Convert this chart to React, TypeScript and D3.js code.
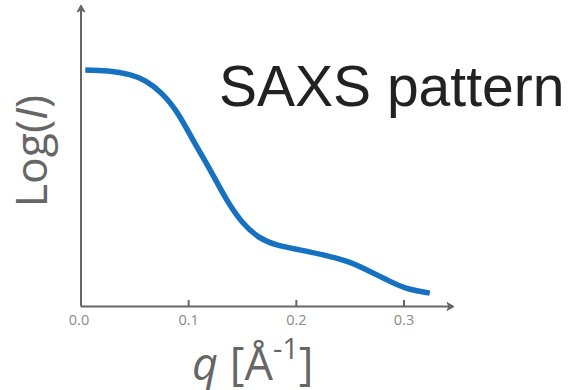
import React from "react";
import * as d3 from "d3";

// Scattering vector q [Å^-1] and log intensity (arbitrary units)
const qValues = [0.004, 0.025, 0.045, 0.06, 0.075, 0.09, 0.105, 0.12, 0.135, 0.15, 0.165, 0.182, 0.203, 0.225, 0.247, 0.265, 0.284, 0.302, 0.324];
const logI = [7.98, 7.94, 7.82, 7.6, 7.18, 6.5, 5.55, 4.6, 3.62, 2.84, 2.35, 2.08, 1.91, 1.74, 1.52, 1.24, 0.9, 0.62, 0.45];
const xTicks = [0.0, 0.1, 0.2, 0.3];

const W = 568;
const H = 390;
const originX = 81;
const originY = 306.5;
const xEnd = 454;
const yEnd = 5;

export default function App() {
  const x = d3.scaleLinear().domain([0, 0.3]).range([originX, 404]);
  const y = d3.scaleLinear().domain([0, 10]).range([originY, 10]);

  const pts = qValues.map((q, i) => [q, logI[i]] as [number, number]);
  const line = d3
    .line<[number, number]>()
    .x((d) => x(d[0]))
    .y((d) => y(d[1]))
    .curve(d3.curveNatural);

  const axisColor = "#666";
  const sans = "'Open Sans', 'DejaVu Sans', sans-serif";

  return (
    <svg
      width={W}
      height={H}
      style={{ position: "absolute", left: 0, top: 0, background: "#fff" }}
    >
      {/* axes with arrow heads */}
      <line x1={originX} y1={originY} x2={xEnd - 3} y2={originY} stroke={axisColor} strokeWidth={2} />
      <line x1={originX} y1={originY} x2={originX} y2={yEnd + 3} stroke={axisColor} strokeWidth={2} />
      <path
        d={`M${xEnd},${originY} L${xEnd - 7},${originY - 4} L${xEnd - 5},${originY} L${xEnd - 7},${originY + 4} Z`}
        fill={axisColor}
        stroke={axisColor}
        strokeWidth={1}
        strokeLinejoin="round"
      />
      <path
        d={`M${originX},${yEnd} L${originX - 4},${yEnd + 7} L${originX},${yEnd + 5} L${originX + 4},${yEnd + 7} Z`}
        fill={axisColor}
        stroke={axisColor}
        strokeWidth={1}
        strokeLinejoin="round"
      />

      {/* ticks and labels */}
      {xTicks.map((t) => (
        <g key={t}>
          {t > 0 && (
            <line x1={x(t)} x2={x(t)} y1={originY} y2={originY - 6.5} stroke={axisColor} strokeWidth={2} />
          )}
          <text
            x={x(t) - (t === 0 ? 2 : 0)}
            y={325}
            textAnchor="middle"
            fontFamily={sans}
            fontSize={14.5}
            fill="#8a8a8a"
          >
            {t.toFixed(1)}
          </text>
        </g>
      ))}

      {/* intensity curve */}
      <path d={line(pts) ?? ""} fill="none" stroke="#1672c0" strokeWidth={5.5} strokeLinecap="butt" />

      {/* title */}
      <text x={219} y={106} fontFamily="'Liberation Sans', Arial, sans-serif" fontSize={57} fill="#222">
        SAXS pattern
      </text>

      {/* axis titles */}
      <text
        transform="translate(47,151) rotate(-90)"
        textAnchor="middle"
        fontFamily={sans}
        fontSize={44.5}
        fill="#666"
      >
        Log(<tspan fontStyle="italic">I</tspan>)
      </text>
      <text x={192} y={380} fontFamily={sans} fontSize={45} fill="#666">
        <tspan fontStyle="italic">q</tspan> [Å
        <tspan fontSize={29} dy={-21}>-1</tspan>
        <tspan dy={21}>]</tspan>
      </text>
    </svg>
  );
}
